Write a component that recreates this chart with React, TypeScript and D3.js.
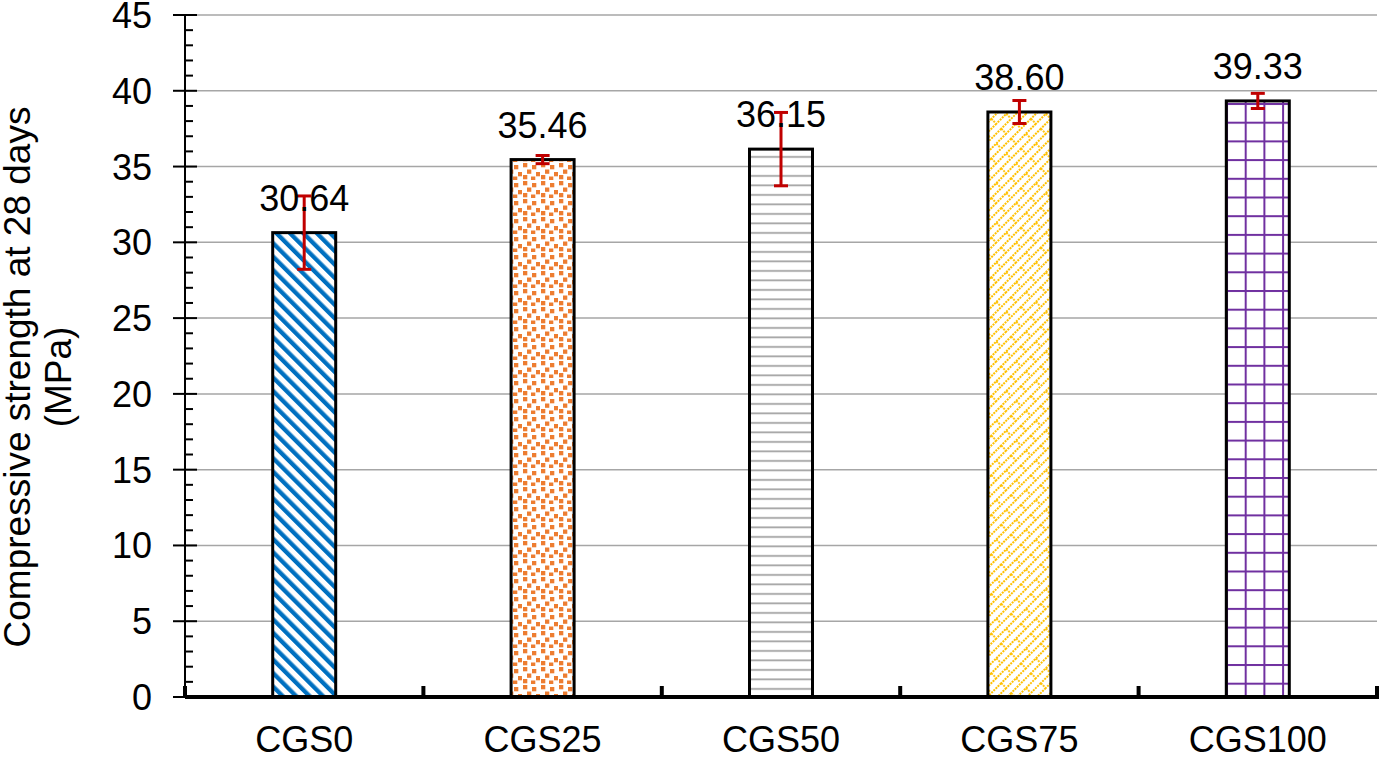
import React, { useEffect, useRef } from 'react';
import * as d3 from 'd3';

const categories = ['CGS0', 'CGS25', 'CGS50', 'CGS75', 'CGS100'];
const strength = [30.64, 35.46, 36.15, 38.6, 39.33];
const errors = [2.42, 0.27, 2.42, 0.76, 0.5];
const yTicks = [0, 5, 10, 15, 20, 25, 30, 35, 40, 45];
const patternIds = ['pat-stripe', 'pat-confetti', 'pat-hlines', 'pat-brick', 'pat-grid'];

const W = 1382;
const H = 759;
const FONT = '"Liberation Sans", Arial, sans-serif';

export default function App() {
  const svgRef = useRef<SVGSVGElement>(null);

  useEffect(() => {
    if (!svgRef.current) return;
    const svg = d3.select(svgRef.current);
    svg.selectAll('*').remove();

    const left = 185;
    const right = 1377;
    const top = 15;
    const bottom = 697;

    const x = d3.scaleBand<string>().domain(categories).range([left, right]).padding(0);
    const y = d3.scaleLinear().domain([0, 45]).range([bottom, top]);
    const barW = 63;

    svg.append('rect').attr('width', W).attr('height', H).attr('fill', '#fff');

    // fill patterns
    const defs = svg.append('defs');

    const stripe = defs.append('pattern')
      .attr('id', 'pat-stripe')
      .attr('patternUnits', 'userSpaceOnUse')
      .attr('width', 9.5).attr('height', 9.5)
      .attr('patternTransform', 'rotate(-45)');
    stripe.append('rect').attr('width', 9.5).attr('height', 9.5).attr('fill', '#fff');
    stripe.append('rect').attr('x', 0).attr('width', 4.3).attr('height', 9.5).attr('fill', '#0070C0');

    const confetti = defs.append('pattern')
      .attr('id', 'pat-confetti')
      .attr('patternUnits', 'userSpaceOnUse')
      .attr('width', 18).attr('height', 18);
    confetti.append('rect').attr('width', 18).attr('height', 18).attr('fill', '#fff');
    [[1, 1], [10, 3], [5, 7.5], [14, 10], [1, 13], [9, 14.5]].forEach(([px, py]) => {
      confetti.append('rect').attr('x', px).attr('y', py).attr('width', 4.3).attr('height', 4.3).attr('fill', '#ED7D31');
    });

    const hlines = defs.append('pattern')
      .attr('id', 'pat-hlines')
      .attr('patternUnits', 'userSpaceOnUse')
      .attr('width', 10).attr('height', 9.5);
    hlines.append('rect').attr('width', 10).attr('height', 9.5).attr('fill', '#fff');
    hlines.append('rect').attr('y', 4).attr('width', 10).attr('height', 1.8).attr('fill', '#A5A5A5');

    const brick = defs.append('pattern')
      .attr('id', 'pat-brick')
      .attr('patternUnits', 'userSpaceOnUse')
      .attr('width', 28).attr('height', 14)
      .attr('patternTransform', 'rotate(-45)');
    brick.append('rect').attr('width', 28).attr('height', 14).attr('fill', '#fff');
    const brickLine = (x1: number, y1: number, x2: number, y2: number) =>
      brick.append('line')
        .attr('x1', x1).attr('y1', y1).attr('x2', x2).attr('y2', y2)
        .attr('stroke', '#FFC000').attr('stroke-width', 1.8)
        .attr('stroke-dasharray', '2 1');
    brickLine(0, 1, 28, 1);
    brickLine(0, 8, 28, 8);
    brickLine(1, 1, 1, 8);
    brickLine(15, 8, 15, 15);

    const grid = defs.append('pattern')
      .attr('id', 'pat-grid')
      .attr('patternUnits', 'userSpaceOnUse')
      .attr('width', 18.7).attr('height', 18.7)
      .attr('x', 1226).attr('y', 103);
    grid.append('rect').attr('width', 18.7).attr('height', 18.7).attr('fill', '#fff');
    grid.append('rect').attr('x', 0).attr('width', 2).attr('height', 18.7).attr('fill', '#7030A0');
    grid.append('rect').attr('y', 0).attr('width', 18.7).attr('height', 2).attr('fill', '#7030A0');

    // gridlines
    svg.append('g')
      .selectAll('line')
      .data(yTicks.filter(t => t > 0))
      .enter().append('line')
      .attr('x1', left).attr('x2', right)
      .attr('y1', d => y(d)).attr('y2', d => y(d))
      .attr('stroke', '#A6A6A6').attr('stroke-width', 1.5);

    // y axis
    const yAxis = svg.append('g');
    yAxis.append('line')
      .attr('x1', left).attr('x2', left).attr('y1', top).attr('y2', bottom)
      .attr('stroke', '#000').attr('stroke-width', 2);
    yAxis.selectAll('.major')
      .data(yTicks)
      .enter().append('line')
      .attr('x1', left - 12).attr('x2', left + 12)
      .attr('y1', d => y(d)).attr('y2', d => y(d))
      .attr('stroke', '#000').attr('stroke-width', 2);
    yAxis.selectAll('.minor')
      .data(d3.range(0, 45).filter(v => v % 5 !== 0))
      .enter().append('line')
      .attr('x1', left).attr('x2', left + 8)
      .attr('y1', d => y(d)).attr('y2', d => y(d))
      .attr('stroke', '#000').attr('stroke-width', 2);
    yAxis.selectAll('text')
      .data(yTicks)
      .enter().append('text')
      .attr('x', 152)
      .attr('y', d => y(d))
      .attr('dy', '0.36em')
      .attr('text-anchor', 'end')
      .style('font-family', FONT)
      .style('font-size', '36px')
      .text(d => d);

    // bars
    const bars = svg.append('g');
    bars.selectAll('rect')
      .data(categories)
      .enter().append('rect')
      .attr('x', d => (x(d) as number) + x.bandwidth() / 2 - barW / 2)
      .attr('width', barW)
      .attr('y', (d, i) => y(strength[i]))
      .attr('height', (d, i) => bottom - y(strength[i]))
      .attr('fill', (d, i) => `url(#${patternIds[i]})`)
      .attr('stroke', '#000')
      .attr('stroke-width', 3);

    // x axis
    const xAxis = svg.append('g');
    xAxis.append('line')
      .attr('x1', left - 12).attr('x2', left).attr('y1', bottom).attr('y2', bottom)
      .attr('stroke', '#000').attr('stroke-width', 2);
    xAxis.append('line')
      .attr('x1', left).attr('x2', right + 2).attr('y1', bottom).attr('y2', bottom)
      .attr('stroke', '#000').attr('stroke-width', 4);
    const boundaries = categories.map(c => x(c) as number).concat([right]);
    xAxis.selectAll('.tick')
      .data(boundaries)
      .enter().append('line')
      .attr('x1', d => d).attr('x2', d => d)
      .attr('y1', bottom - 11).attr('y2', bottom)
      .attr('stroke', '#000').attr('stroke-width', 4);
    xAxis.selectAll('text')
      .data(categories)
      .enter().append('text')
      .attr('x', d => (x(d) as number) + x.bandwidth() / 2)
      .attr('y', 752)
      .attr('text-anchor', 'middle')
      .style('font-family', FONT)
      .style('font-size', '36px')
      .text(d => d);

    // error bars
    const err = svg.append('g').attr('stroke', '#C00000').attr('stroke-width', 3);
    categories.forEach((c, i) => {
      const cx = (x(c) as number) + x.bandwidth() / 2;
      const hi = y(strength[i] + errors[i]);
      const lo = y(strength[i] - errors[i]);
      err.append('line').attr('x1', cx).attr('x2', cx).attr('y1', hi).attr('y2', lo);
      err.append('line').attr('x1', cx - 7).attr('x2', cx + 7).attr('y1', hi).attr('y2', hi);
      err.append('line').attr('x1', cx - 7).attr('x2', cx + 7).attr('y1', lo).attr('y2', lo);
    });

    // value labels
    svg.append('g')
      .selectAll('text')
      .data(categories)
      .enter().append('text')
      .attr('x', d => (x(d) as number) + x.bandwidth() / 2)
      .attr('y', (d, i) => y(strength[i]) - 22)
      .attr('text-anchor', 'middle')
      .style('font-family', FONT)
      .style('font-size', '36px')
      .text((d, i) => strength[i].toFixed(2));

    // y axis title
    const title = svg.append('text')
      .attr('transform', 'translate(0,377) rotate(-90)')
      .attr('text-anchor', 'middle')
      .style('font-family', FONT)
      .style('font-size', '37px');
    title.append('tspan').attr('x', 0).attr('y', 30).text('Compressive strength at 28 days');
    title.append('tspan').attr('x', 0).attr('y', 71).text('(MPa)');
  }, []);

  return (
    <svg
      ref={svgRef}
      width={W}
      height={H}
      viewBox={`0 0 ${W} ${H}`}
      style={{ position: 'absolute', left: 0, top: 0 }}
    />
  );
}
